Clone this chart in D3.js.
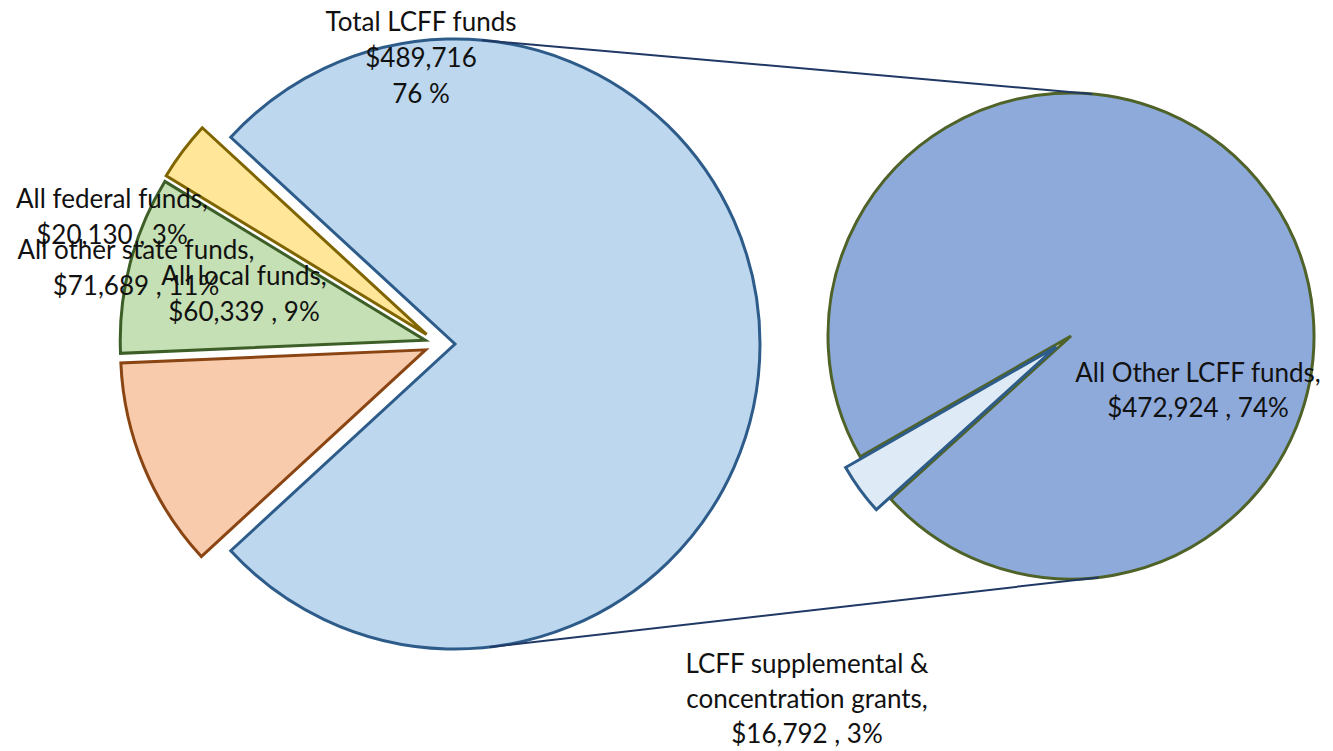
<!DOCTYPE html>
<html>
<head>
<meta charset="utf-8">
<script src="https://cdn.jsdelivr.net/npm/d3@7"></script>
<style>
  body { margin: 0; background: #fff; }
  svg { display: block; }
  .lbl { font-family: Lato, "Open Sans", sans-serif; font-size: 26px; fill: #111; }
</style>
</head>
<body>
<svg width="1333" height="751"></svg>
<script>
// data

const mainNames = ["Total LCFF funds", "All other state funds", "All local funds", "All federal funds"];
const mainValues = [489716, 71689, 60339, 20130];
const mainFills = ["#bdd7ee", "#f8cbad", "#c5e0b4", "#ffe699"];
const mainStrokes = ["#2e5c8a", "#8a4513", "#3d5f27", "#7f6400"];

const subNames = ["All Other LCFF funds", "LCFF supplemental & concentration grants"];
const subValues = [472924, 16792];
const subFills = ["#8eaadb", "#deebf7"];
const subStrokes = ["#4f6228", "#2e5c8a"];

// label lines split as on the original chart
const mainLabelLines = [
  ["Total LCFF funds"],
  ["All other state funds,"],
  ["All local funds,"],
  ["All federal funds,"]
];
const subLabelLines = [
  ["All Other LCFF funds,"],
  ["LCFF supplemental &", "concentration grants,"]
];

// layout

const svg = d3.select("svg");
const grand = d3.sum(mainValues);
const fmt = d3.format("$,");
const deg = Math.PI / 180;

const left = { x: 455, y: 344, r: 305 };
const right = { x: 1071, y: 336, r: 243 };

// label anchors (centre x, first baseline y)
const mainLabelPos = [[421, 31], [136, 259], [244, 285], [112, 208]];
const subLabelPos = [[1198, 382], [807, 673]];
const lineGap = 36;

// main pie: the "other" slice sits centred on 3 o'clock
let bigSpan = mainValues[0] / grand * 2 * Math.PI;
let mainPie = d3.pie().sort(null)
  .startAngle(Math.PI / 2 - bigSpan / 2)
  .endAngle(Math.PI / 2 - bigSpan / 2 + 2 * Math.PI);
let mainArcs = mainPie(mainValues);
let arcL = d3.arc().innerRadius(0).outerRadius(left.r);

let gL = svg.append("g").attr("transform", `translate(${left.x},${left.y})`);
gL.selectAll("path")
  .data(mainArcs)
  .enter()
  .append("path")
  .attr("d", arcL)
  .attr("fill", (d, i) => mainFills[i])
  .attr("stroke", (d, i) => mainStrokes[i])
  .attr("stroke-width", 3)
  .attr("stroke-linejoin", "miter")
  .attr("transform", (d, i) => {
    if (i == 0) return null;
    // exploded slices pushed out towards the left
    let mid = (d.startAngle + d.endAngle) / 2;
    let dir = 1.5 * Math.PI + (mid - 1.5 * Math.PI) * 0.5;
    let off = 30;
    return `translate(${off * Math.sin(dir)},${-off * Math.cos(dir)})`;
  });

// second pie
let smallSpan = subValues[1] / d3.sum(subValues) * 2 * Math.PI;
let smallMid = 234 * deg;
let subPie = d3.pie().sort(null)
  .startAngle(smallMid + smallSpan / 2)
  .endAngle(smallMid + smallSpan / 2 + 2 * Math.PI);
let subArcs = subPie(subValues);
let arcR = d3.arc().innerRadius(0).outerRadius(right.r);

let gR = svg.append("g").attr("transform", `translate(${right.x},${right.y})`);
gR.selectAll("path")
  .data(subArcs)
  .enter()
  .append("path")
  .attr("d", arcR)
  .attr("fill", (d, i) => subFills[i])
  .attr("stroke", (d, i) => subStrokes[i])
  .attr("stroke-width", 3)
  .attr("transform", (d, i) => {
    if (i == 0) return null;
    let mid = (d.startAngle + d.endAngle) / 2;
    let off = 18;
    return `translate(${off * Math.sin(mid)},${-off * Math.cos(mid)})`;
  });

// connector lines = outer tangents of the two circles
let dx = right.x - left.x, dy = right.y - left.y;
let dist = Math.hypot(dx, dy);
let base = Math.atan2(dy, dx);
let a = Math.acos((left.r - right.r) / dist);
[base - a, base + a].forEach(t => {
  let nx = Math.cos(t), ny = Math.sin(t);
  svg.append("line")
    .attr("x1", left.x + left.r * nx)
    .attr("y1", left.y + left.r * ny)
    .attr("x2", right.x + right.r * nx)
    .attr("y2", right.y + right.r * ny)
    .attr("stroke", "#1f3864")
    .attr("stroke-width", 2);
});

// labels
function pctText(v) { return Math.round(v / grand * 100); }

let mainLabels = mainNames.map((n, i) => {
  if (i == 0) return mainLabelLines[i].concat([fmt(mainValues[i]), pctText(mainValues[i]) + " %"]);
  return mainLabelLines[i].concat([fmt(mainValues[i]) + " , " + pctText(mainValues[i]) + "%"]);
});
let subLabels = subNames.map((n, i) =>
  subLabelLines[i].concat([fmt(subValues[i]) + " , " + pctText(subValues[i]) + "%"]));

function drawLabels(lines, pos, gap) {
  svg.append("g")
    .selectAll("text")
    .data(lines)
    .enter()
    .append("text")
    .classed("lbl", true)
    .attr("text-anchor", "middle")
    .attr("x", (d, i) => pos[i][0])
    .attr("y", (d, i) => pos[i][1])
    .each(function (d, i) {
      d3.select(this).selectAll("tspan")
        .data(d)
        .enter()
        .append("tspan")
        .attr("x", pos[i][0])
        .attr("y", (s, j) => pos[i][1] + j * gap)
        .text(s => s);
    });
}
drawLabels(mainLabels, mainLabelPos, lineGap);
drawLabels(subLabels, subLabelPos, 35);
</script>
</body>
</html>
